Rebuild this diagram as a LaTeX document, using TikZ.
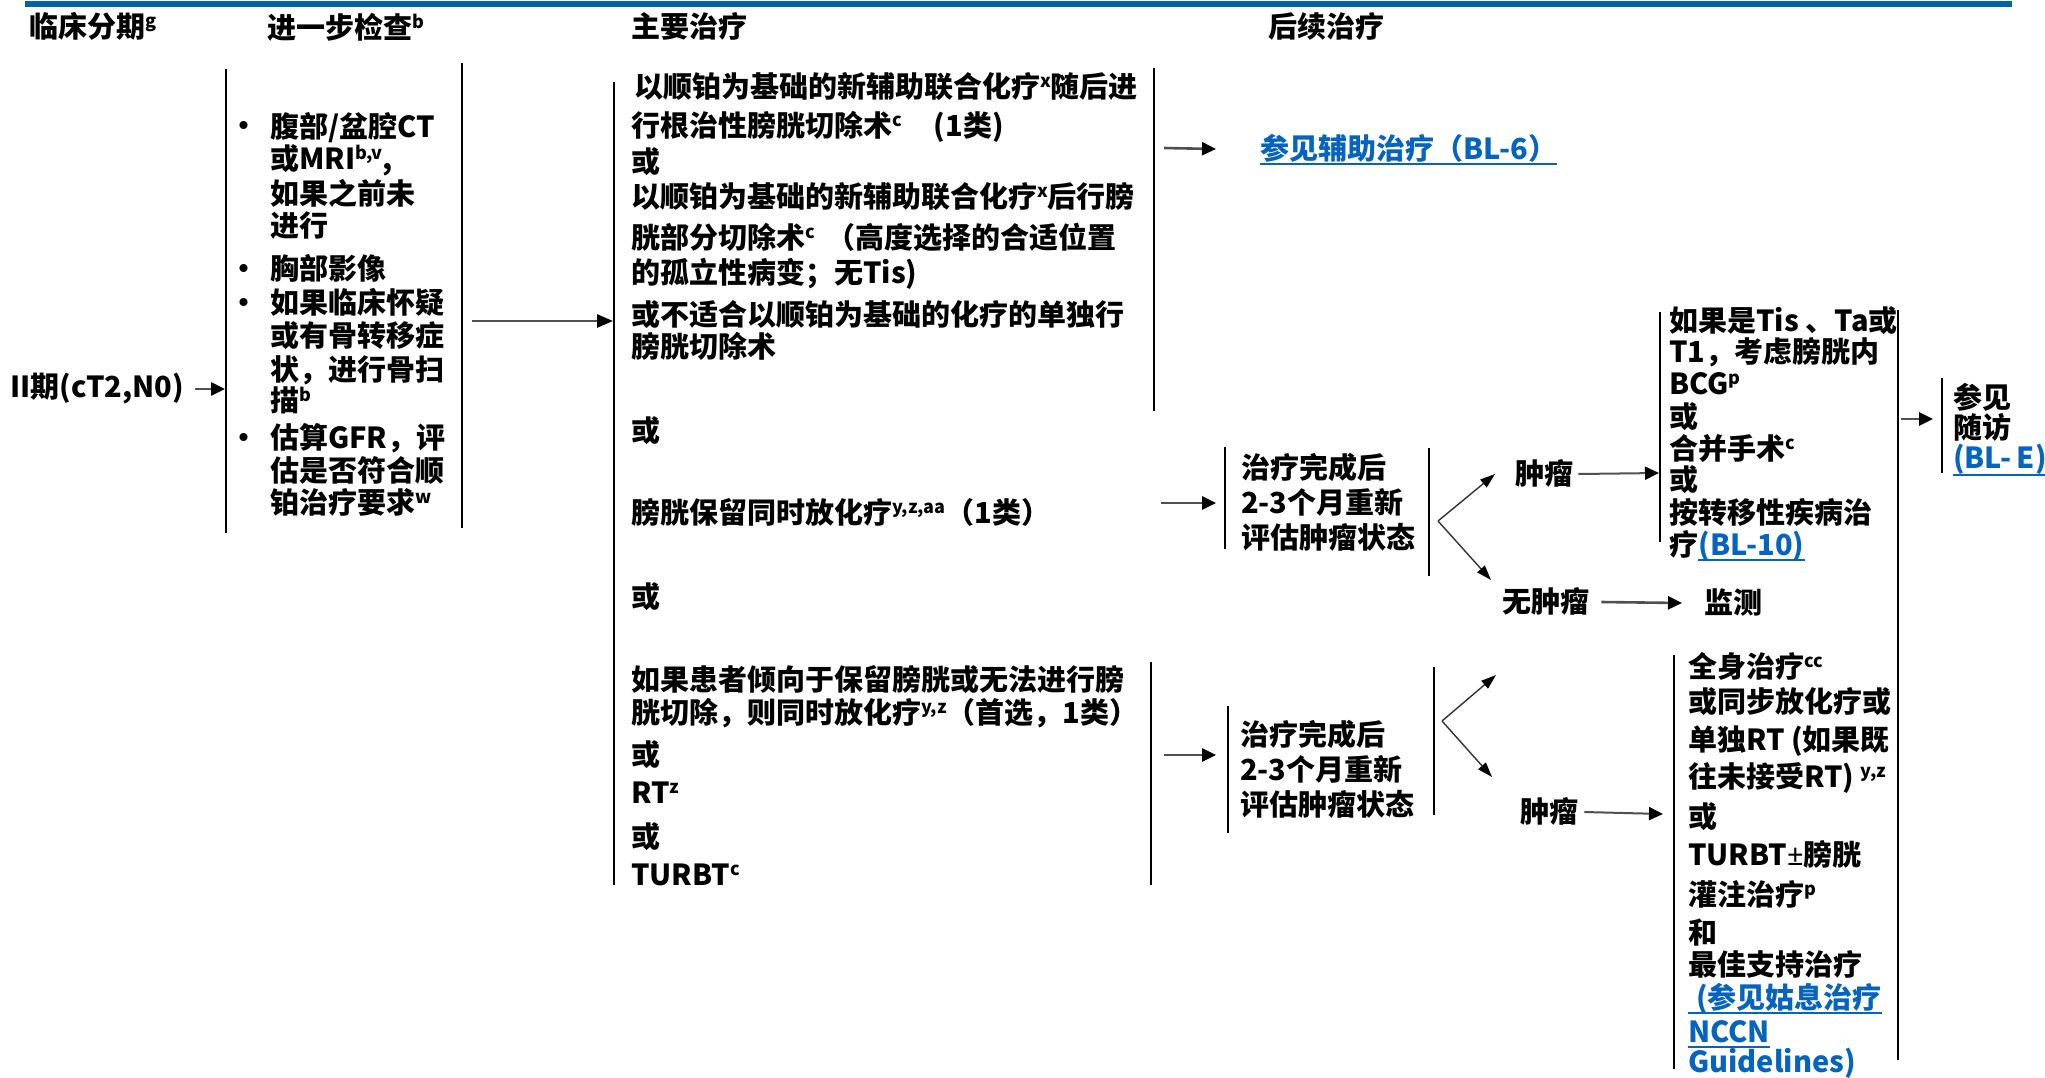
\documentclass[tikz,border=0pt]{standalone}
\usepackage{fontspec}
\setmainfont{Noto Sans CJK SC}
\newfontfamily\latinf{Noto Sans}
\usetikzlibrary{arrows.meta}
\definecolor{barblue}{RGB}{0,100,164}
\definecolor{linkblue}{RGB}{5,99,193}
\definecolor{shaft}{RGB}{80,80,80}
\newcommand\sups[1]{\raisebox{10pt}{\fontsize{18}{18}\selectfont #1}}
\tikzset{
 tx/.style={anchor=west, inner sep=0pt, text height=25pt, text depth=4pt, font=\bfseries\fontsize{29}{34}\selectfont},
 lk/.style={tx, text=linkblue},
 ul/.style={draw=linkblue, line width=1.8pt},
 br/.style={line width=2pt},
 ar/.style={draw=shaft, line width=2.6pt, -{Triangle[length=16pt,width=13pt,color=black]}},
 sar/.style={draw=shaft, line width=2.6pt, -{Triangle[length=14pt,width=13pt,color=black]}},
 far/.style={draw=black!80, line width=1.4pt, -{Triangle[length=15pt,width=10pt,color=black]}}
}
\begin{document}
\begin{tikzpicture}[x=1pt,y=-1pt]
\useasboundingbox (0,0) rectangle (2045,1077);
\fill[barblue] (25,1) rectangle (2012,7);
% headers
\node[tx] (h1) at (29,27) {临床分期\sups{g}};
\node[tx] (h2) at (267,28) {进一步检查\sups{b}};
\node[tx] (h3) at (631,27) {主要治疗};
\node[tx] (h4) at (1268,27) {后续治疗};
% stage
\node[tx] (st) at (10,387) {II期(cT2,N0)};
\coordinate (stout) at (195,389);
\coordinate (c2in) at (225,389);
\draw[sar] (stout) -- (c2in);
% column 2
\draw[br] (226,69) -- (226,533);
\draw[br] (462,63) -- (462,528);
\node[tx] (b1) at (229,126) {•};
\node[tx] (b2) at (229,269) {•};
\node[tx] (b3) at (229,303) {•};
\node[tx] (b4) at (229,438) {•};
\node[tx] (w1) at (270,127) {腹部/盆腔CT};
\node[tx] (w2) at (270,159) {或MRI\sups{b,v},};
\node[tx] (w3) at (270,194) {如果之前未};
\node[tx] (w4) at (270,226) {进行};
\node[tx] (w5) at (270,269) {胸部影像};
\node[tx] (w6) at (270,303) {如果临床怀疑};
\node[tx] (w7) at (270,336) {或有骨转移症};
\node[tx] (w8) at (270,370) {状，进行骨扫};
\node[tx] (w9) at (270,401) {描\sups{b}};
\node[tx] (w10) at (270,438) {估算GFR，评};
\node[tx] (w11) at (270,471) {估是否符合顺};
\node[tx] (w12) at (270,503) {铂治疗要求\sups{w}};
\coordinate (c2out) at (472,321);
\coordinate (c3in) at (613,321);
\draw[ar] (c2out) -- (c3in);
% column 3
\draw[br] (614,82) -- (614,885);
\draw[br] (1154,68) -- (1154,411);
\draw[br] (1151,662) -- (1151,885);
\node[tx] (p1) at (634,87) {以顺铂为基础的新辅助联合化疗\sups{x}随后进};
\node[tx] (p2) at (631,126) {行根治性膀胱切除术\sups{c}\hspace{32pt}(1类)};
\node[tx] (p3) at (631,162) {或};
\node[tx] (p4) at (631,197) {以顺铂为基础的新辅助联合化疗\sups{x}后行膀};
\node[tx] (p5) at (631,238) {胱部分切除术\sups{c}\hspace{12pt}（高度选择的合适位置};
\node[tx] (p6) at (631,273) {的孤立性病变；无Tis)};
\node[tx] (p7) at (631,315) {或不适合以顺铂为基础的化疗的单独行};
\node[tx] (p8) at (631,347) {膀胱切除术};
\node[tx] (p9) at (631,431) {或};
\node[tx] (p10) at (631,513) {膀胱保留同时放化疗\sups{y,z,aa}（1类）};
\node[tx] (p11) at (631,597) {或};
\node[tx] (p12) at (631,680) {如果患者倾向于保留膀胱或无法进行膀};
\node[tx] (p13) at (631,713) {胱切除，则同时放化疗\sups{y,z}（首选，1类）};
\node[tx] (p14) at (631,755) {或};
\node[tx] (p15) at (631,793) {RT\sups{z}};
\node[tx] (p16) at (631,837) {或};
\node[tx] (p17) at (631,875) {TURBT\sups{c}};
% adjuvant
\coordinate (ad1) at (1164,148);
\node[lk] (bl6) at (1260,149) {参见辅助治疗（BL-6）};
\draw[sar] (ad1) -- ([xshift=-44pt]bl6.west);
\draw[ul] (bl6.south west) -- (bl6.south east);
% upper reassessment
\coordinate (m1in) at (1161,503);
\coordinate (m1L) at (1216,503);
\draw[sar] (m1in) -- (m1L);
\draw[br] (1225,447) -- (1225,549);
\draw[br] (1429,448) -- (1429,576);
\node[tx] (r1) at (1241,468) {治疗完成后};
\node[tx] (r2) at (1241,503) {2-3个月重新};
\node[tx] (r3) at (1241,538) {评估肿瘤状态};
\coordinate (m1o) at (1438,521);
\coordinate (m1a) at (1495,474);
\coordinate (m1b) at (1491,580);
\draw[far] (m1o) -- (m1a);
\draw[far] (m1o) -- (m1b);
\node[tx] (t1) at (1515,474) {肿瘤};
\coordinate (ur) at (1659,473);
\draw[sar, line width=2pt] ([xshift=5pt]t1.east) -- (ur);
\node[tx] (t2) at (1502,602) {无肿瘤};
\node[tx] (mon) at (1704,603) {监测};
\draw[sar] ([xshift=12pt]t2.east) -- ([xshift=-22pt]mon.west);
% upper right box
\draw[br] (1660,312) -- (1660,542);
\node[tx] (u1) at (1669,321) {如果是Tis 、Ta或};
\node[tx] (u2) at (1669,352) {T1，考虑膀胱内};
\node[tx] (u3) at (1669,384) {BCG\sups{p}};
\node[tx] (u4) at (1669,417) {或};
\node[tx] (u5) at (1669,449) {合并手术\sups{c}};
\node[tx] (u6) at (1669,480) {或};
\node[tx] (u7) at (1669,513) {按转移性疾病治};
\node[tx] (u8) at (1669,545) {疗};
\node[lk] (bl10) at (u8.east) {(BL-10)};
\draw[ul] (bl10.south west) -- (bl10.south east);
% long right line and follow-up
\draw[br] (1898,310) -- (1898,1060);
\coordinate (fo) at (1901,419);
\coordinate (fi) at (1933,419);
\draw[sar] (fo) -- (fi);
\draw[br] (1942,378) -- (1942,473);
\node[tx] (f1) at (1953,398) {参见};
\node[tx] (f2) at (1953,428) {随访};
\node[lk] (ble) at (1953,458) {(BL-\,E)};
\draw[ul] ([yshift=-2pt]ble.south west) -- ([yshift=-2pt]ble.south east);
% lower reassessment
\coordinate (m2in) at (1164,755);
\coordinate (m2L) at (1216,755);
\draw[sar] (m2in) -- (m2L);
\draw[br] (1228,706) -- (1228,833);
\draw[br] (1434,667) -- (1434,815);
\node[tx] (q1) at (1240,735) {治疗完成后};
\node[tx] (q2) at (1240,770) {2-3个月重新};
\node[tx] (q3) at (1240,805) {评估肿瘤状态};
\coordinate (m2o) at (1442,721);
\coordinate (m2a) at (1496,675);
\coordinate (m2b) at (1492,777);
\draw[far] (m2o) -- (m2a);
\draw[far] (m2o) -- (m2b);
\node[tx] (t3) at (1520,812) {肿瘤};
\coordinate (lr) at (1663,814);
\draw[sar, line width=2pt] ([xshift=6pt]t3.east) -- (lr);
% lower right box
\draw[br] (1674,655) -- (1674,1069);
\node[tx] (v1) at (1688,667) {全身治疗\sups{cc}};
\node[tx] (v2) at (1688,702) {或同步放化疗或};
\node[tx] (v3) at (1688,740) {单独RT (如果既};
\node[tx] (v4) at (1688,777) {往未接受RT) \sups{y,z}};
\node[tx] (v5) at (1688,817) {或};
\node[tx] (v6) at (1688,855) {TURBT{\latinf ±}膀胱};
\node[tx] (v7) at (1688,895) {灌注治疗\sups{p}};
\node[tx] (v8) at (1688,933) {和};
\node[tx] (v9) at (1688,965) {最佳支持治疗};
\node[lk] (v10) at (1688,998) {\hspace{8pt}(参见姑息治疗};
\draw[ul] (v10.south west) -- (v10.south east);
\node[lk] (v11) at (1688,1032) {NCCN};
\draw[ul] (v11.south west) -- (v11.south east);
\node[lk] (v12) at (1688,1062) {Guidelines)};
\end{tikzpicture}
\end{document}
